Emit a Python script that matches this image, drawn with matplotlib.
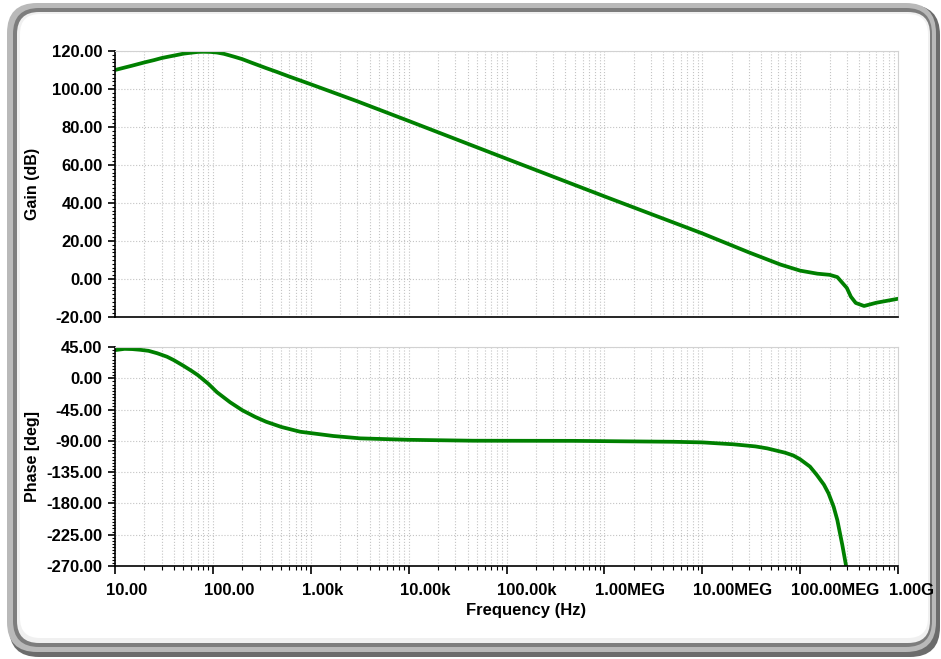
import numpy as np
import matplotlib
matplotlib.use('Agg')
import matplotlib.pyplot as plt
from matplotlib.patches import FancyBboxPatch
from matplotlib.transforms import IdentityTransform, ScaledTranslation
from matplotlib.ticker import FixedLocator, LogLocator, AutoMinorLocator, FuncFormatter, NullFormatter

plt.rcParams['font.family'] = ['Liberation Sans', 'DejaVu Sans']
plt.rcParams['font.weight'] = 'bold'

# gain curve
gain_freq = [10, 15, 20, 25, 30, 35, 43, 50, 60, 70, 80, 95, 110, 130, 150, 170, 200, 250,
             350, 450, 600, 1e3, 3e3, 1e4, 1e5, 1e6, 1e7, 3e7, 6.3e7, 1e8, 1.5e8, 2e8,
             2.4e8, 3e8, 3.3e8, 3.7e8, 4.5e8, 6e8, 1e9]
gain_db = [110, 112.3, 114, 115.2, 116.3, 117, 117.9, 118.6, 119.1, 119.5, 119.6, 119.5,
           119.2, 118.5, 117.6, 116.8, 115.7, 113.8, 111, 109, 106.6, 102.5, 93.5, 83.2,
           63.3, 43.5, 24, 14, 7.6, 4.4, 2.8, 2.2, 1.0, -4.7, -9.3, -12.6, -14.2, -12.5,
           -10.4]

# phase curve
phase_freq = [10, 12.5, 15, 18, 22, 27, 34, 40, 50, 60, 70, 90, 110, 150, 200, 270, 350,
              500, 780, 1.7e3, 3.2e3, 1e4, 4.6e4, 4.8e5, 5e6, 1e7, 2.1e7, 3.5e7, 4.6e7,
              7e7, 8.5e7, 1e8, 1.26e8, 1.48e8, 1.75e8, 1.95e8, 2.2e8, 2.4e8, 2.7e8, 2.95e8]
phase_deg = [40.5, 42.3, 42, 41, 39.5, 36, 31, 26, 18, 11, 4.7, -8, -20, -34.5, -46, -55.5,
             -62.5, -70, -76.9, -83, -86.4, -88.5, -89.8, -90, -91.3, -92.2, -95, -98,
             -100.8, -107, -111, -116.5, -127, -139, -153, -165.5, -184.8, -204, -240, -270]

freq_ticks = [10, 100, 1e3, 1e4, 1e5, 1e6, 1e7, 1e8, 1e9]
freq_labels = ['10.00', '100.00', '1.00k', '10.00k', '100.00k', '1.00MEG', '10.00MEG',
               '100.00MEG', '1.00G']
gain_ticks = [-20, 0, 20, 40, 60, 80, 100, 120]
phase_ticks = [-270, -225, -180, -135, -90, -45, 0, 45]

W, H = 941, 659
fig = plt.figure(figsize=(W / 100, H / 100), dpi=100)
fig.patch.set_facecolor('white')

# rounded panel frame (pixel coords, y from the top)
def frame(x0, y0, x1, y1, r, color):
    p = FancyBboxPatch((x0, H - y1), x1 - x0, y1 - y0,
                       boxstyle='round,pad=0,rounding_size=%d' % r,
                       transform=IdentityTransform(), facecolor=color,
                       edgecolor='none', zorder=-10)
    fig.add_artist(p)

frame(9, 5, 940, 657, 30, '#6c6c6c')
frame(7, 3, 936, 652, 30, '#b9b9b9')
frame(13, 8, 932, 647, 26, '#7d7d7d')
frame(17, 12, 930, 643, 22, '#f0f0f0')
frame(20, 14, 928, 638, 20, '#ffffff')

green = '#008000'
ax1 = fig.add_axes([115 / W, 1 - 317 / H, 783 / W, 266 / H])
ax2 = fig.add_axes([115 / W, 1 - 566 / H, 783 / W, 219 / H])

ax1.plot(gain_freq, gain_db, color=green, lw=2.7, solid_joinstyle='round')
ax2.plot(phase_freq, phase_deg, color=green, lw=2.7, solid_joinstyle='round')

ax1.set_ylim(-20, 120)
ax1.set_yticks(gain_ticks)
ax2.set_ylim(-270, 45)
ax2.set_yticks(phase_ticks)

for ax in (ax1, ax2):
    ax.set_xscale('log')
    ax.set_xlim(10, 1e9)
    ax.xaxis.set_major_locator(FixedLocator(freq_ticks))
    ax.xaxis.set_minor_locator(LogLocator(base=10, subs=np.arange(2, 10)))
    ax.xaxis.set_minor_formatter(NullFormatter())
    ax.yaxis.set_minor_locator(AutoMinorLocator(10))
    ax.yaxis.set_major_formatter(FuncFormatter(lambda v, p: '%.2f' % v))
    ax.grid(which='both', axis='x', ls=':', color='#c4c4c4', lw=0.8)
    ax.grid(which='major', axis='y', ls=':', color='#c4c4c4', lw=0.8)
    ax.set_axisbelow(True)
    for s in ('top', 'right'):
        ax.spines[s].set_color('#d2d2d2')
    for s in ('left', 'bottom'):
        ax.spines[s].set_color('black')
        ax.spines[s].set_linewidth(1.2)
    ax.tick_params(axis='y', which='major', length=5, width=1.2, pad=4, labelsize=12)
    ax.tick_params(axis='y', which='minor', length=2.5, width=0.8)

ax1.tick_params(axis='x', which='both', bottom=False, labelbottom=False)
ax2.set_xticks(freq_ticks)
ax2.set_xticklabels(freq_labels)
ax2.tick_params(axis='x', which='major', length=6, width=1.2, pad=6, labelsize=12)
ax2.tick_params(axis='x', which='minor', length=3, width=0.8)

# labels start a little left of their tick, as in the original
shift = ScaledTranslation(-9 / 100, 0, fig.dpi_scale_trans)
for t in ax2.xaxis.get_major_ticks():
    t.label1.set_horizontalalignment('left')
    t.label1.set_transform(t.label1.get_transform() + shift)

ax1.set_ylabel('Gain (dB)', fontsize=11.5, fontweight='bold')
ax2.set_ylabel('Phase [deg]', fontsize=11.5, fontweight='bold')
for ax in (ax1, ax2):
    ax.yaxis.set_label_coords(-0.105, 0.5)
    ax.yaxis.label.set_verticalalignment('center')
ax2.set_xlabel('Frequency (Hz)', fontsize=12, fontweight='bold')
ax2.xaxis.set_label_coords((526 - 115) / 783, (566 - 610) / 219)
ax2.xaxis.label.set_verticalalignment('center')

fig.savefig('out.png', dpi=100)
